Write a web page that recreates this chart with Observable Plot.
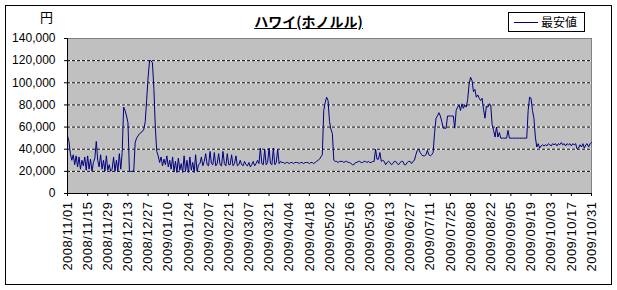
<!DOCTYPE html>
<html><head><meta charset="utf-8">
<script src="https://cdn.jsdelivr.net/npm/d3@7"></script>
<script src="https://cdn.jsdelivr.net/npm/@observablehq/plot@0.6"></script>
<style>
body{margin:0;background:#fff;}
#wrap{position:relative;width:617px;height:290px;overflow:hidden;font-family:"Liberation Sans",Arial,sans-serif;background:#fff;}
#chart{position:absolute;left:0;top:0;}
#border{position:absolute;left:5px;top:5px;width:605px;height:278px;border:1px solid #000;pointer-events:none;}
#title{position:absolute;left:0;width:617px;top:11px;text-align:center;font:bold 14px "Noto Sans CJK JP",sans-serif;text-decoration:underline;color:#000;}
#unit{position:absolute;left:40px;top:7px;font:13px "Noto Sans CJK JP",sans-serif;color:#000;}
#legend{position:absolute;left:508px;top:12px;width:75px;height:18px;border:1px solid #000;background:#fff;font:12px "Noto Sans CJK JP",sans-serif;}
#legend .ln{position:absolute;left:5px;top:9px;width:24px;height:0;border-top:1px solid #000080;}
#legend .tx{position:absolute;left:32px;top:0px;line-height:18px;}
svg g[aria-label="x-axis tick label"] text{letter-spacing:0.5px;}
</style>
</head><body>
<div id="wrap">
  <div id="chart"></div>
  <div id="border"></div>
  <div id="title"></div>
  <div id="unit"></div>
  <div id="legend"><div class="ln"></div><div class="tx"></div></div>
</div>
<script>
const titleText = "ハワイ(ホノルル)";
const unitLabel = "円";
const seriesName = "最安値";
const startDate = "2008/11/01";
const tickLabels = ["2008/11/01","2008/11/15","2008/11/29","2008/12/13","2008/12/27","2009/01/10","2009/01/24","2009/02/07","2009/02/21","2009/03/07","2009/03/21","2009/04/04","2009/04/18","2009/05/02","2009/05/16","2009/05/30","2009/06/13","2009/06/27","2009/07/11","2009/07/25","2009/08/08","2009/08/22","2009/09/05","2009/09/19","2009/10/03","2009/10/17","2009/10/31"];
const yTicks = [0,20000,40000,60000,80000,100000,120000,140000];
// daily lowest price (yen), 2008/11/01 .. 2009/10/31
const prices = [
52000,47000,36000,30000,35000,26000,34000,24000,33000,22000,
30000,25000,33000,21000,34000,22000,31000,20000,28000,32000,
47000,30000,24000,35000,22000,30000,20000,34000,21000,26000,
20000,22000,33000,20000,30000,20000,36000,22000,37000,
78000,75000,70000,64000,20000,20000,20000,20000,46000,50000,52000,54000,55000,56000,58000,65000,85000,105000,120000,120000,118000,95000,60000,38000,
34000,28000,33000,25000,31000,26000,34000,24000,30000,22000,33000,20000,29000,19000,32000,21000,27000,19000,34000,20000,30000,19000,33000,21000,28000,19000,35000,20000,26000,
27000,33000,25000,29000,36000,26000,25000,38000,27000,26000,37000,25000,27000,36000,26000,25000,38000,27000,25000,36000,26000,26000,35000,25000,27000,34000,25000,26000,
30000,26000,25000,29000,26000,25000,28000,24000,26000,29000,25000,27000,30000,
27000,41000,27000,26000,40000,26000,28000,41000,27000,26000,41000,26000,28000,40000,27000,29000,
28000,28000,27000,28000,28000,27000,28000,28000,27000,28000,28000,28000,27000,28000,28000,27000,28000,28000,28000,27000,28000,28000,27000,28000,29000,30000,
31000,33000,35000,75000,82000,87000,84000,65000,58000,54000,30000,
29000,29000,28000,29000,29000,29000,28000,29000,29000,28000,28000,27000,26000,26000,28000,28000,29000,29000,28000,28000,29000,29000,28000,29000,28000,28000,29000,
29000,40000,31000,31000,37000,29000,30000,
29000,26000,28000,29000,28000,26000,27000,29000,29000,27000,26000,28000,29000,29000,26000,26000,28000,29000,29000,27000,29000,
30000,35000,39000,40000,37000,35000,34000,34000,35000,39000,
35000,34000,35000,37000,55000,68000,70000,73000,70000,65000,
59000,59000,59000,70000,70000,70000,70000,70000,59000,75000,
78000,80000,75000,81000,77000,80000,78000,85000,99000,105000,
102000,92000,94000,87000,89000,86000,84000,86000,76000,68000,
79000,78000,81000,80000,62000,57000,51000,60000,51000,55000,
50000,50000,50000,50000,50000,57000,50000,50000,50000,50000,
50000,50000,50000,50000,50000,50000,50000,50000,50000,75000,
87000,86000,75000,68000,51000,42000,45000,41000,
43000,44000,43000,44000,43000,45000,44000,43000,45000,44000,
45000,43000,45000,44000,46000,44000,45000,43000,45000,44000,
45000,43000,45000,44000,45000,40000,41000,44000,42000,45000,
41000,44000,45000,42000,45000,46000
];

document.getElementById("title").textContent = titleText;
document.getElementById("unit").textContent = unitLabel;
document.querySelector("#legend .tx").textContent = seriesName;

const parse = d3.utcParse("%Y/%m/%d");
const start = parse(startDate);
const data = prices.map((v, i) => ({date: d3.utcDay.offset(start, i), price: v}));
const tickDates = tickLabels.map(parse);
const grid = yTicks.filter(v => v > yTicks[0] && v < yTicks[yTicks.length - 1]);

const chart = Plot.plot({
  width: 617, height: 290,
  marginLeft: 67, marginRight: 26, marginTop: 38, marginBottom: 97,
  x: {type: "utc", domain: [tickDates[0], tickDates[tickDates.length - 1]]},
  y: {domain: [yTicks[0], yTicks[yTicks.length - 1]]},
  style: {fontFamily: "'Liberation Sans', Arial, sans-serif", fontSize: "12px", color: "#000", background: "transparent", overflow: "visible"},
  marks: [
    Plot.frame({fill: "#c0c0c0", stroke: "#808080"}),
    Plot.ruleY(grid, {stroke: "#ffffff", strokeWidth: 1}),
    Plot.ruleY(grid, {stroke: "#000", strokeWidth: 1, strokeDasharray: "3,2"}),
    Plot.line(data, {x: "date", y: "price", stroke: "#000080", strokeWidth: 1}),
    Plot.ruleY([yTicks[0]], {stroke: "#000"}),
    Plot.ruleX([tickDates[0]], {stroke: "#000"}),
    Plot.axisY({ticks: yTicks, tickFormat: d3.format(","), tickSize: 3, tickPadding: 9, fontSize: 12, label: null}),
    Plot.axisX({ticks: tickDates, tickFormat: d3.utcFormat("%Y/%m/%d"), tickRotate: -90, tickSize: 3, tickPadding: 5, fontSize: 13, label: null})
  ]
});
document.getElementById("chart").appendChild(chart);
</script>
</body></html>
